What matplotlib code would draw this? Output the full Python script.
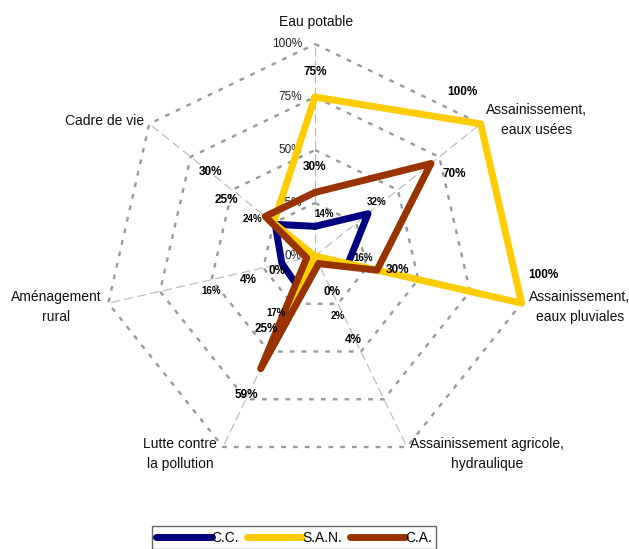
import numpy as np
import matplotlib
matplotlib.use("Agg")
import matplotlib.pyplot as plt

plt.rcParams['font.family'] = ['Liberation Sans', 'DejaVu Sans']

categories = ["Eau potable", "Assainissement,\neaux usées", "Assainissement,\neaux pluviales",
              "Assainissement agricole,\nhydraulique", "Lutte contre\nla pollution",
              "Aménagement\nrural", "Cadre de vie"]
cc = [14, 32, 16, 2, 17, 16, 24]
san = [75, 100, 100, 0, 25, 0, 25]
ca = [30, 70, 30, 4, 59, 4, 30]
series_names = ["C.C.", "S.A.N.", "C.A."]
ring_ticks = [0, 25, 50, 75, 100]

colors = ['#000080', '#FFCC00', '#993300']

# hand-placed label offsets (pixels, x right / y down) as in the original
cat_offsets = [(1, -22), (56, -4), (58, 4), (80, 7), (-43, 7), (-52, 4), (-45, -3)]
lab_offsets = [
    [(9, -12), (9, -12), (15, -6), (21, 56), (-23, 25), (-71, 27), (-23, -5)],
    [(0, -25), (-18, -32), (22, -28), (17, 36), (-26, 25), (-38, 15), (-47, -23)],
    [(0, -25), (23, 10), (21, 0), (35, 76), (-14, 26), (-58, 22), (-55, -44)],
]
lab_sizes = [7, 8.5, 8.5]

n = len(categories)
theta = np.arange(n) * 2 * np.pi / n
theta_c = np.append(theta, theta[0])

fig = plt.figure(figsize=(6.29, 5.49), dpi=100)
ax = fig.add_axes([0.1300, 0.1089, 0.7415, 0.8495], projection='polar')
ax.set_theta_offset(np.pi / 2)
ax.set_theta_direction(-1)
ax.set_ylim(0, 1.1)
ax.grid(False)
ax.set_xticks([])
ax.set_yticks([])
ax.spines['polar'].set_visible(False)
ax.patch.set_alpha(0)

# rings and spokes
for t in ring_ticks[1:]:
    ax.plot(theta_c, [t / 100.0] * (n + 1), color='#9a9a9a', lw=1.7,
            linestyle=(0, (2, 3)), zorder=1)
for th in theta:
    ax.plot([th, th], [0, 1.0], color='#b8b8b8', lw=0.8, linestyle=(0, (8, 4)), zorder=1)

for t in ring_ticks:
    ax.annotate("%d%%" % t, xy=(0, t / 100.0), xytext=(-13, 0), textcoords='offset pixels',
                ha='right', va='center', fontsize=8.5, color='#222222', zorder=2)

for i, vals in enumerate([cc, san, ca]):
    v = np.array(vals + [vals[0]]) / 100.0
    ax.plot(theta_c, v, color=colors[i], lw=5, label=series_names[i],
            solid_joinstyle='round', solid_capstyle='round', zorder=3 + i, clip_on=False)

for i, vals in enumerate([cc, san, ca]):
    for k in range(n):
        dx, dy = lab_offsets[i][k]
        ax.annotate("%d%%" % vals[k], xy=(theta[k], vals[k] / 100.0), xytext=(dx, -dy),
                    textcoords='offset pixels', ha='center', va='center',
                    fontsize=lab_sizes[i], fontweight='bold', color='black', zorder=10)

for k in range(n):
    dx, dy = cat_offsets[k]
    ax.annotate(categories[k], xy=(theta[k], 1.0), xytext=(dx, -dy), textcoords='offset pixels',
                ha='center', va='center', fontsize=10, linespacing=1.55, color='#111111',
                annotation_clip=False)

leg = fig.legend(loc='upper left', bbox_to_anchor=(152 / 629, 0.041), ncol=3,
                 handlelength=4.0, handletextpad=0.0, columnspacing=0.55, fontsize=10,
                 frameon=True, fancybox=False, borderpad=0.3, borderaxespad=0)
leg.get_frame().set_edgecolor('#404040')
leg.get_frame().set_linewidth(1.0)

plt.savefig("out.png", dpi=100)
